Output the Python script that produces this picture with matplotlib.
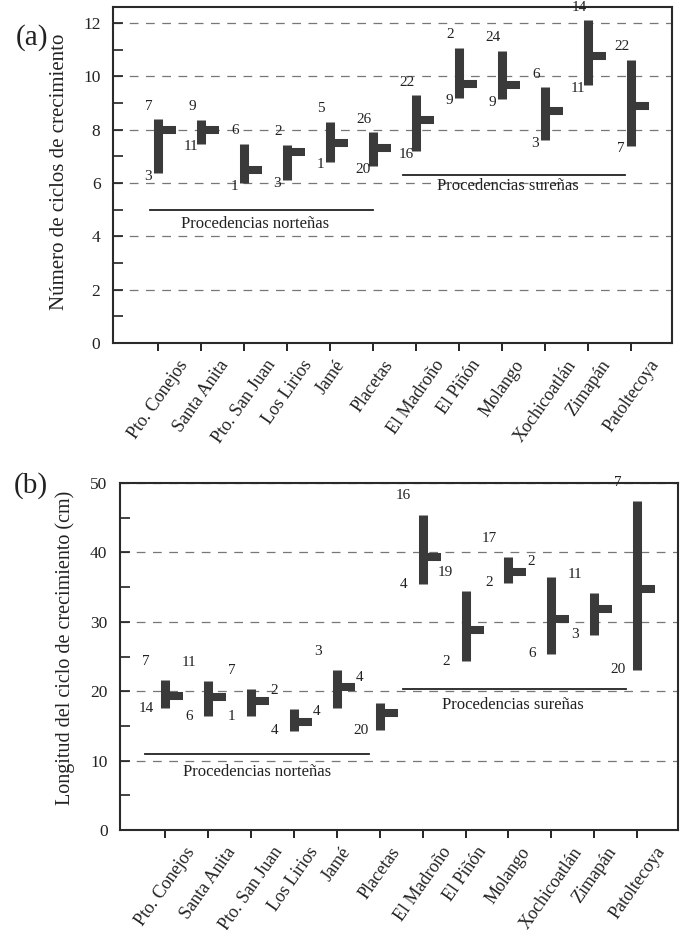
import matplotlib
import numpy as np

matplotlib.use("Agg")
import matplotlib.pyplot as plt  # noqa: E402
from matplotlib.ticker import MultipleLocator  # noqa: E402

plt.rcParams["font.family"] = ["Liberation Serif", "DejaVu Serif"]

CATS = ["Pto. Conejos", "Santa Anita", "Pto. San Juan", "Los Lirios", "Jamé",
        "Placetas", "El Madroño", "El Piñón", "Molango", "Xochicoatlán",
        "Zimapán", "Patoltecoya"]

# (a) number of growth cycles: min / max / mean per provenance
A_MIN = [6.37, 7.48, 6.0, 6.1, 6.8, 6.63, 7.19, 9.19, 9.15, 7.6, 9.67, 7.4]
A_MAX = [8.4, 8.37, 7.48, 7.44, 8.3, 7.9, 9.3, 11.07, 10.96, 9.6, 12.1, 10.63]
A_MEAN = [8.0, 7.97, 6.5, 7.15, 7.5, 7.3, 8.37, 9.7, 9.67, 8.7, 10.78, 8.9]
A_TOP = ["7", "9", "6", "2", "5", "26", "22", "2", "24", "6", "14", "22"]
A_BOT = ["3", "11", "1", "3", "1", "20", "16", "9", "9", "3", "11", "7"]

# (b) length of the growth cycle (cm)
B_MIN = [17.55, 16.4, 16.4, 14.3, 17.6, 14.4, 35.4, 24.3, 35.6, 25.4, 28.1, 23.1]
B_MAX = [21.6, 21.4, 20.3, 17.5, 23.0, 18.3, 45.4, 34.4, 39.3, 36.5, 34.1, 47.4]
B_MEAN = [19.3, 19.2, 18.6, 15.6, 20.6, 16.9, 39.3, 28.8, 37.2, 30.4, 31.8, 34.7]
B_TOP = ["7", "11", "7", None, "3", None, "16", None, "17", None, "11", "7"]
B_BOT = ["14", "6", "1", "4", None, "20", "4", "2", "2", "6", "3", "20"]
B_MID = [None, None, "2", "4", "4", None, "19", None, "2", None, None, None]

BAR = "#3a3a3a"
INK = "#222222"
PX = 0.72  # points per pixel at dpi 100


def draw(ax, lo, hi, mean, top, bot, top_off, bot_off):
    x = np.arange(len(CATS))
    vl = ax.vlines(x, lo, hi, lw=6.5, color=BAR, zorder=3)
    vl.set_capstyle("butt")
    hl = ax.hlines(mean, x, x + 0.42, lw=5.8, color=BAR, zorder=3)
    hl.set_capstyle("butt")
    for i in x:
        if top[i]:
            ax.annotate(top[i], (i, hi[i]), xytext=top_off, textcoords="offset points",
                        ha="center", va="center", fontsize=11, color=INK)
        if bot[i]:
            ax.annotate(bot[i], (i, lo[i]), xytext=bot_off, textcoords="offset points",
                        ha="center", va="center", fontsize=11, color=INK)

    ax.set_xlim(-1.05, 11.95)
    ax.set_xticks(x)
    ax.set_xticklabels(CATS, rotation=55, ha="center", va="top",
                       fontsize=13, color=INK)
    ax.tick_params(axis="x", direction="out", length=6, width=1.2, pad=4)
    ax.tick_params(axis="y", which="both", direction="in", length=7, width=1.2,
                   labelsize=12.5, pad=9, colors=INK)
    ax.yaxis.grid(True, which="major", ls=(0, (7, 6)), lw=0.9, color="#777777")
    ax.set_axisbelow(True)
    for s in ax.spines.values():
        s.set_linewidth(1.5)
        s.set_color("#2a2a2a")


fig = plt.figure(figsize=(6.83, 9.30), dpi=100)

# ---- panel (a) ------------------------------------------------------------
ax = fig.add_axes([113 / 683, 1 - 343 / 930, 559 / 683, 336 / 930])
draw(ax, A_MIN, A_MAX, A_MEAN, A_TOP, A_BOT, (-9 * PX, 13 * PX), (-10 * PX, -3 * PX))
ax.set_ylim(0, 12.6)
ax.yaxis.set_major_locator(MultipleLocator(2))
ax.yaxis.set_minor_locator(MultipleLocator(1))
ax.set_ylabel("Número de ciclos de crecimiento", fontsize=15, va="center", color=INK)
ax.yaxis.set_label_coords(-0.095, 0.51)
ax.plot([-0.2, 5.0], [5.0, 5.0], color=INK, lw=1.3)
ax.text(2.26, 4.45, "Procedencias norteñas", ha="center", va="center", fontsize=12, color=INK)
ax.plot([5.7, 10.86], [6.3, 6.3], color=INK, lw=1.3)
ax.text(8.14, 5.9, "Procedencias sureñas", ha="center", va="center", fontsize=12, color=INK)
fig.text(32 / 683, 1 - 38 / 930, "(a)", ha="center", va="center", fontsize=21, color=INK)

# ---- panel (b) ------------------------------------------------------------
ax = fig.add_axes([120 / 683, 1 - 830 / 930, 558 / 683, 347 / 930])
draw(ax, B_MIN, B_MAX, B_MEAN, B_TOP, B_BOT, (-19 * PX, 19 * PX), (-19 * PX, 0))
mid_dy = {6: -15}  # pixels; positive = above the mean tick
for i, lab in enumerate(B_MID):
    if lab:
        ax.annotate(lab, (i, B_MEAN[i]), xytext=(23 * PX, mid_dy.get(i, 10) * PX),
                    textcoords="offset points", ha="center", va="center",
                    fontsize=11, color=INK)
ax.set_ylim(0, 50)
ax.yaxis.set_major_locator(MultipleLocator(10))
ax.yaxis.set_minor_locator(MultipleLocator(5))
ax.set_ylabel("Longitud del ciclo de crecimiento (cm)", fontsize=14.5, va="center", color=INK)
ax.yaxis.set_label_coords(-0.099, 0.524)
ax.plot([-0.47, 4.75], [10.9, 10.9], color=INK, lw=1.3)
ax.text(2.14, 8.3, "Procedencias norteñas", ha="center", va="center", fontsize=12, color=INK)
ax.plot([5.55, 10.75], [20.3, 20.3], color=INK, lw=1.3)
ax.text(8.1, 18.0, "Procedencias sureñas", ha="center", va="center", fontsize=12, color=INK)
fig.text(31 / 683, 1 - 486 / 930, "(b)", ha="center", va="center", fontsize=21, color=INK)

fig.savefig("out.png", dpi=100)
plt.close(fig)
